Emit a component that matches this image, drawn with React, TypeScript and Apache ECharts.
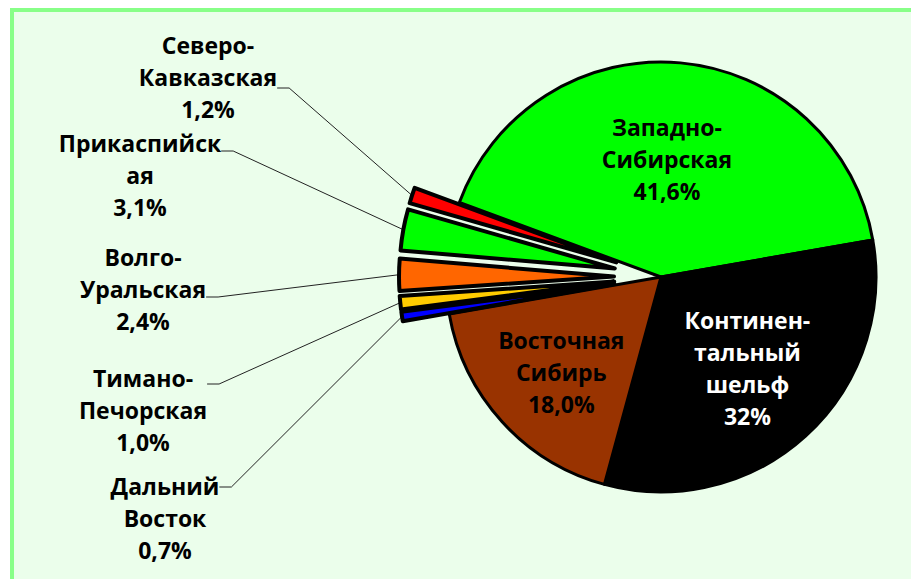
import React, { useEffect, useRef } from 'react';
import * as echarts from 'echarts';

const categories = [
  'Западно-\nСибирская',
  'Континен-\nтальный\nшельф',
  'Восточная\nСибирь',
  'Дальний\nВосток',
  'Тимано-\nПечорская',
  'Волго-\nУральская',
  'Прикаспийск\nая',
  'Северо-\nКавказская',
];
const shares = [41.6, 32, 18.0, 0.7, 1.0, 2.4, 3.1, 1.2];
const percentLabels = ['41,6%', '32%', '18,0%', '0,7%', '1,0%', '2,4%', '3,1%', '1,2%'];
const colors = ['#00FF00', '#000000', '#993300', '#0000FF', '#FFCC00', '#FF6600', '#00FF00', '#FF0000'];
const exploded = [false, false, false, true, true, true, true, true];

// layout settings
const CENTER = [661, 277];
const RADIUS = 215;
const START_ANGLE = 159.7;
const EXPLODE = 47;
const insideOffsets: Record<number, number[]> = { 0: [-4, -8], 1: [12, 9], 2: [-18, 21] };
// [x, y of leader anchor, spacer above, spacer below]
const outsideLabelPos: Record<number, number[]> = {
  3: [165, 487, 62, 0],
  4: [143, 384, 52, 0],
  5: [143, 297, 0, 16],
  6: [140, 151, 48, 0],
  7: [208, 88, 0, 22],
};

const FONT = {
  fontFamily: 'Open Sans',
  fontWeight: 'bold' as const,
  fontSize: 23,
  lineHeight: 32,
  align: 'center' as const,
};

export default function App() {
  const ref = useRef<HTMLDivElement>(null);
  useEffect(() => {
    if (!ref.current) return;
    const chart = echarts.init(ref.current, null, { renderer: 'svg' });
    const total = shares.reduce((a, b) => a + b, 0);
    const midAngles: number[] = [];
    let cum = 0;
    shares.forEach((v) => {
      midAngles.push(START_ANGLE - (360 * (cum + v / 2)) / total);
      cum += v;
    });

    const hidden = {
      itemStyle: { color: 'rgba(0,0,0,0)', borderWidth: 0 },
      label: { show: false },
      labelLine: { show: false },
    };

    const mainData = shares.map((v, i) =>
      exploded[i]
        ? { value: v, name: categories[i], ...hidden }
        : {
            value: v,
            name: categories[i],
            itemStyle: { color: colors[i] },
            label: {
              show: true,
              position: 'inside',
              color: i === 1 ? '#FFFFFF' : '#000000',
              offset: insideOffsets[i],
            },
            labelLine: { show: false },
          }
    );

    const series: any[] = [
      {
        type: 'pie',
        z: 5,
        center: CENTER,
        radius: [0, RADIUS],
        startAngle: START_ANGLE,
        clockwise: true,
        avoidLabelOverlap: false,
        itemStyle: { borderColor: '#000', borderWidth: 3 },
        emphasis: { disabled: true },
        label: {
          ...FONT,
          formatter: (p: any) => `${p.name}\n${percentLabels[p.dataIndex]}`,
        },
        data: mainData,
      },
    ];

    shares.forEach((_, k) => {
      if (!exploded[k]) return;
      const a = (midAngles[k] * Math.PI) / 180;
      const c = [CENTER[0] + EXPLODE * Math.cos(a), CENTER[1] - EXPLODE * Math.sin(a)];
      const pos = outsideLabelPos[k];
      series.push({
        type: 'pie',
        z: 6,
        center: c,
        radius: [0, RADIUS],
        startAngle: START_ANGLE,
        clockwise: true,
        avoidLabelOverlap: false,
        emphasis: { disabled: true },
        itemStyle: { borderColor: '#000', borderWidth: 4 },
        label: {
          ...FONT,
          color: '#000',
          position: 'outside',
          formatter: (p: any) => {
            const lines = `${p.name}\n${percentLabels[p.dataIndex]}`.split('\n').map((s) => `{t|${s}}`);
            if (pos[2] > 0) lines.unshift('{a| }');
            if (pos[3] > 0) lines.push('{b| }');
            return lines.join('\n');
          },
          rich: {
            t: { ...FONT, color: '#000' },
            a: { fontSize: 1, lineHeight: pos[2] || 1, align: 'center' },
            b: { fontSize: 1, lineHeight: pos[3] || 1, align: 'center' },
          },
        },
        labelLine: { show: true, lineStyle: { color: '#222', width: 1 }, length: 20, length2: 12 },
        labelLayout: (params: any) => {
          if (params.dataIndex !== k) return {};
          return { x: pos[0], y: pos[1], align: 'center', verticalAlign: 'middle' };
        },
        data: shares.map((v, i) =>
          i === k
            ? { value: v, name: categories[i], itemStyle: { color: colors[i] } }
            : { value: v, name: categories[i], ...hidden }
        ),
      });
    });

    chart.setOption({
      animation: false,
      backgroundColor: '#FFFFFF',
      graphic: [
        {
          type: 'rect',
          z: 0,
          silent: true,
          shape: { x: 12, y: 10, width: 1000, height: 800 },
          style: { fill: '#EBFEEB', stroke: '#88FF88', lineWidth: 4 },
        },
      ],
      series,
    });
    return () => chart.dispose();
  }, []);
  return (
    <div
      ref={ref}
      style={{ position: 'fixed', left: 0, top: 0, width: 911, height: 579 }}
    />
  );
}
